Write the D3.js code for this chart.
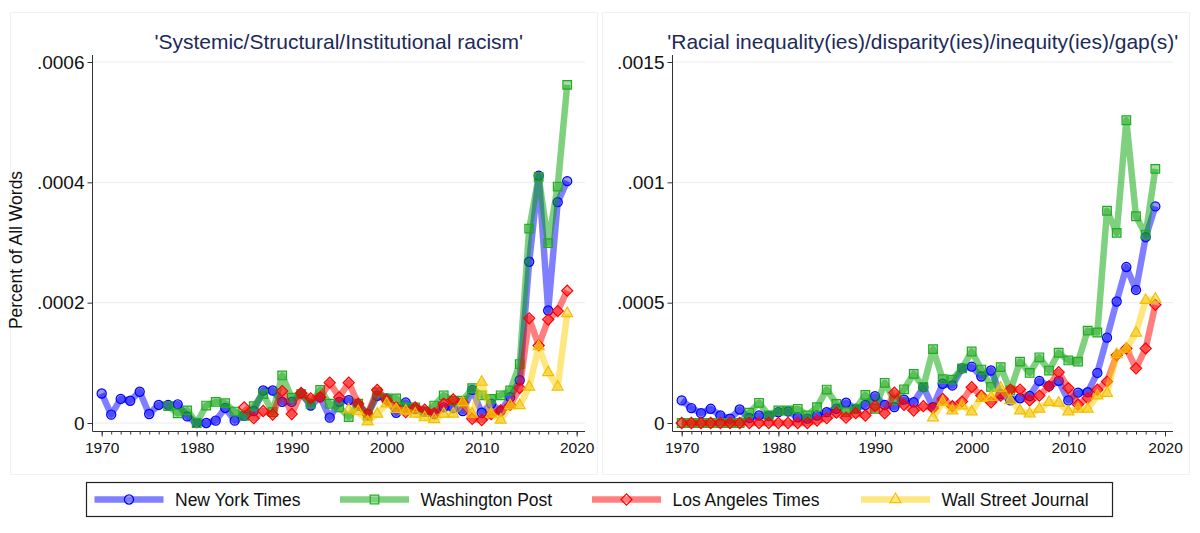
<!DOCTYPE html>
<html>
<head>
<meta charset="utf-8">
<script src="https://cdn.jsdelivr.net/npm/d3@7"></script>
<style>
  body { margin: 0; background: #fff; }
  svg { display: block; font-family: "Liberation Sans", Arial, Helvetica, sans-serif; }
</style>
</head>
<body>
<div id="chart"></div>
<script>
// values are in units of 1e-5 (percent of all words)
const UNIT = 1e-5;
const papers = ['New York Times', 'Washington Post', 'Los Angeles Times', 'Wall Street Journal'];
const lineColors = ['#0000ff', '#00a300', '#ff0000', '#ffd000'];
const markColors = ['#0000ff', '#22aa22', '#ff0000', '#f0c000'];
const markShapes = ['circle', 'square', 'diamond', 'triangle'];

// 'Systemic/Structural/Institutional racism'
const leftStart = [1970, 1977, 1985, 1996];
const nytLeft = [4.9, 1.4, 4.0, 3.7, 5.2, 1.5, 3.0, 3.0, 3.1, 1.1, 0, 0, 0.4, 2.5, 0.4, 1.2, 2.0, 5.4, 5.4, 3.5,
  3.5, 4.9, 2.9, 4.3, 0.9, 3.5, 3.8, 2.9, 1.5, 4.5, 4.1, 1.7, 3.4, 2.3, 1.9, 1.5, 2.6, 2.5, 2.0, 5.5,
  1.7, 3.2, 2.0, 4.3, 7.1, 26.8, 41.1, 18.7, 36.7, 40.2];
const wpLeft = [2.8, 1.6, 2.1, 0, 2.9, 3.5, 3.3, 1.9, 1.2, 2.8, 4.8, 1.8, 7.9, 4.2, 4.8, 3.2, 5.5, 3.2, 2.6,
  1.0, 3.2, 1.2, 5.1, 4.1, 4.1, 2.6, 2.6, 1.8, 2.9, 4.6, 3.7, 3.7, 5.8, 4.6, 4.0, 4.6, 5.4, 9.8, 32.3,
  40.9, 29.9, 39.3, 56.2];
const latLeft = [2.6, 0.8, 2.0, 1.4, 5.3, 1.5, 5.0, 4.1, 4.3, 6.7, 4.3, 6.7, 3.2, 1.4, 5.5, 3.8, 2.6, 1.8,
  2.6, 2.2, 1.6, 3.2, 3.9, 3.4, 0.7, 0.5, 1.5, 2.1, 3.0, 5.8, 17.4, 12.9, 17.2, 18.6, 22.0];
const wsjLeft = [2.2, 1.9, 0.2, 1.5, 3.2, 2.3, 2.0, 1.5, 0.9, 0.6, 1.5, 1.5, 3.4, 1.5, 6.8, 1.5, 0.5, 2.9,
  2.9, 6.0, 12.7, 8.4, 6.0, 18.2];

// 'Racial inequality(ies)/disparity(ies)/inequity(ies)/gap(s)'
const rightStart = [1970, 1970, 1970, 1996];
const nytRight = [9.4, 6.2, 4.1, 5.9, 3.1, 1.8, 5.6, 2.1, 3.1, 2.9, 4.5, 4.8, 2.4, 1.8, 3.1, 4.5, 5.9, 8.4,
  5.9, 7.5, 11.1, 7.5, 6.6, 9.7, 8.6, 14.9, 6.6, 16.3, 15.6, 22.7, 23.4, 19.3, 21.8, 12.0, 9.4, 10.3,
  11.2, 17.5, 15.3, 17.5, 9.4, 12.6, 12.8, 20.8, 35.5, 50.5, 64.8, 55.3, 77.2, 90.0];
const wpRight = [0, 0, 0, 0, 0, 0, 0, 4.3, 8.4, 3.2, 5.2, 5.2, 5.9, 3.2, 6.6, 13.9, 7.9, 4.5, 5.9, 11.7,
  5.9, 16.7, 9.4, 14.0, 20.4, 15.0, 30.7, 18.2, 18.0, 22.7, 29.7, 22.2, 15.0, 23.2, 13.5, 25.5, 20.8,
  27.3, 21.8, 29.2, 26.0, 25.5, 38.4, 37.6, 88.2, 79.0, 125.8, 85.9, 78.3, 105.6];
const latRight = [0, 0, 0, 0, 0, 0, 0, 0, 0, 0, 0, 0, 0, 0, 1.0, 2.0, 4.3, 2.2, 4.1, 3.1, 7.0, 4.1, 12.6,
  7.6, 5.2, 7.0, 6.1, 10.0, 7.0, 8.9, 14.9, 11.4, 8.6, 11.4, 13.9, 13.9, 9.4, 11.4, 15.3, 21.1, 14.5,
  7.7, 10.4, 13.8, 17.2, 28.2, 31.0, 22.7, 31.0, 49.1];
const wsjRight = [2.2, 8.6, 5.1, 7.2, 4.7, 10.3, 10.7, 14.5, 9.4, 5.1, 3.8, 5.8, 8.6, 8.3, 4.7, 5.8, 5.8,
  11.3, 12.4, 28.5, 30.8, 37.4, 51.0, 51.5];

const titles = ["'Systemic/Structural/Institutional racism'",
  "'Racial inequality(ies)/disparity(ies)/inequity(ies)/gap(s)'"];
const leftTicks = [0, 0.0002, 0.0004, 0.0006];
const rightTicks = [0, 0.0005, 0.001, 0.0015];
const yearTicks = [1970, 1980, 1990, 2000, 2010, 2020];
const yTitle = 'Percent of All Words';

const W = 1200, H = 533;
const svg = d3.select('#chart').append('svg').attr('width', W).attr('height', H);

// faint panel frames
svg.append('rect').attr('x', 10.5).attr('y', 12.5).attr('width', 587).attr('height', 462)
  .attr('fill', 'none').attr('stroke', '#eef2f3');
svg.append('rect').attr('x', 602.5).attr('y', 12.5).attr('width', 587).attr('height', 462)
  .attr('fill', 'none').attr('stroke', '#eef2f3');

const fmt = d => d === 0 ? '0' : String(+d.toPrecision(3)).replace(/^0\./, '.');

function toSeries(values, start) {
  return values.map((v, i) => ({ year: start + i, value: v * UNIT }));
}

function symbolPath(shape) {
  if (shape === 'circle') return d3.symbol(d3.symbolCircle, 66)();
  if (shape === 'square') return d3.symbol(d3.symbolSquare, 74)();
  if (shape === 'diamond') return d3.symbol(d3.symbolSquare, 62)();
  return d3.symbol(d3.symbolTriangle, 52)();
}

function drawMarker(g, shape, color) {
  const p = g.append('path')
    .attr('d', symbolPath(shape))
    .attr('fill', color).attr('fill-opacity', 0.4)
    .attr('stroke', color).attr('stroke-width', 1.2);
  if (shape === 'diamond') p.attr('transform', 'rotate(45)');
  return p;
}

function drawPanel(opt) {
  const x = d3.scaleLinear().domain([1970, 2020]).range(opt.xRange);
  const y = d3.scaleLinear().domain([0, opt.yMax]).range([423, 62]);
  const g = svg.append('g');

  // grid
  g.selectAll('.grid').data(opt.yTicks).enter().append('line')
    .attr('x1', opt.axisX).attr('x2', opt.axisEnd)
    .attr('y1', d => y(d)).attr('y2', d => y(d))
    .attr('stroke', '#ececec').attr('stroke-width', 1);

  // series
  opt.series.forEach((s, i) => {
    const data = toSeries(s, opt.starts[i]);
    const line = d3.line().x(d => x(d.year)).y(d => y(d.value));
    g.append('path').datum(data)
      .attr('d', line)
      .attr('fill', 'none')
      .attr('stroke', lineColors[i])
      .attr('stroke-opacity', 0.5)
      .attr('stroke-width', 6.5)
      .attr('stroke-linejoin', 'round');
    data.forEach(d => {
      const m = g.append('g').attr('transform', `translate(${x(d.year)},${y(d.value)})`);
      drawMarker(m, markShapes[i], markColors[i]);
    });
  });

  // axes
  const yAxis = g.append('g').attr('transform', `translate(${opt.axisX},0)`)
    .call(d3.axisLeft(y).tickValues(opt.yTicks).tickFormat(fmt).tickSize(5).tickPadding(3));
  yAxis.select('.domain').remove();
  yAxis.selectAll('text').style('font-size', '19px').attr('fill', '#111');

  const xAxis = g.append('g').attr('transform', 'translate(0,431.5)')
    .call(d3.axisBottom(x).tickValues(yearTicks).tickFormat(d3.format('d')).tickSize(5).tickPadding(5));
  xAxis.select('.domain').remove();
  xAxis.selectAll('text').style('font-size', '15.5px').attr('fill', '#111');

  const minor = g.append('g').attr('transform', 'translate(0,431.5)')
    .call(d3.axisBottom(x).tickValues(d3.range(1970, 2021)).tickFormat('').tickSize(3));
  minor.select('.domain').remove();
  g.selectAll('.tick line').attr('stroke', '#333');

  g.append('line').attr('x1', opt.axisX).attr('x2', opt.axisX).attr('y1', 55).attr('y2', 431.5)
    .attr('stroke', '#333');
  g.append('line').attr('x1', opt.axisX).attr('x2', opt.axisEnd).attr('y1', 431.5).attr('y2', 431.5)
    .attr('stroke', '#333');

  g.append('text')
    .attr('x', (opt.axisX + opt.axisEnd) / 2).attr('y', 49)
    .attr('text-anchor', 'middle')
    .style('font-size', '21px').attr('fill', '#1c2a5a')
    .text(opt.title);
}

drawPanel({
  title: titles[0], xRange: [101.7, 576.7], axisX: 92.5, axisEnd: 585,
  yMax: 0.0006, yTicks: leftTicks, starts: leftStart,
  series: [nytLeft, wpLeft, latLeft, wsjLeft]
});
drawPanel({
  title: titles[1], xRange: [681.7, 1165], axisX: 672.5, axisEnd: 1173,
  yMax: 0.0015, yTicks: rightTicks, starts: rightStart,
  series: [nytRight, wpRight, latRight, wsjRight]
});

svg.append('text')
  .attr('transform', 'translate(22,250) rotate(-90)')
  .attr('text-anchor', 'middle')
  .style('font-size', '17.5px').attr('fill', '#111')
  .text(yTitle);

// legend
const legend = svg.append('g');
legend.append('rect').attr('x', 86.5).attr('y', 482.5).attr('width', 1026).attr('height', 34)
  .attr('fill', '#fff').attr('stroke', '#222').attr('stroke-width', 1.2);
const keyX = [94.5, 340, 592, 861];
papers.forEach((p, i) => {
  const k = legend.append('g').attr('transform', `translate(${keyX[i]},499.5)`);
  k.append('line').attr('x1', 0).attr('x2', 69)
    .attr('stroke', lineColors[i]).attr('stroke-opacity', 0.5).attr('stroke-width', 6.5);
  drawMarker(k.append('g').attr('transform', 'translate(34.5,0)'), markShapes[i], markColors[i])
    .attr('fill', 'none');
  k.append('text').attr('x', 80.5).attr('dy', '0.35em')
    .style('font-size', '17.5px').attr('fill', '#111').text(p);
});
</script>
</body>
</html>
